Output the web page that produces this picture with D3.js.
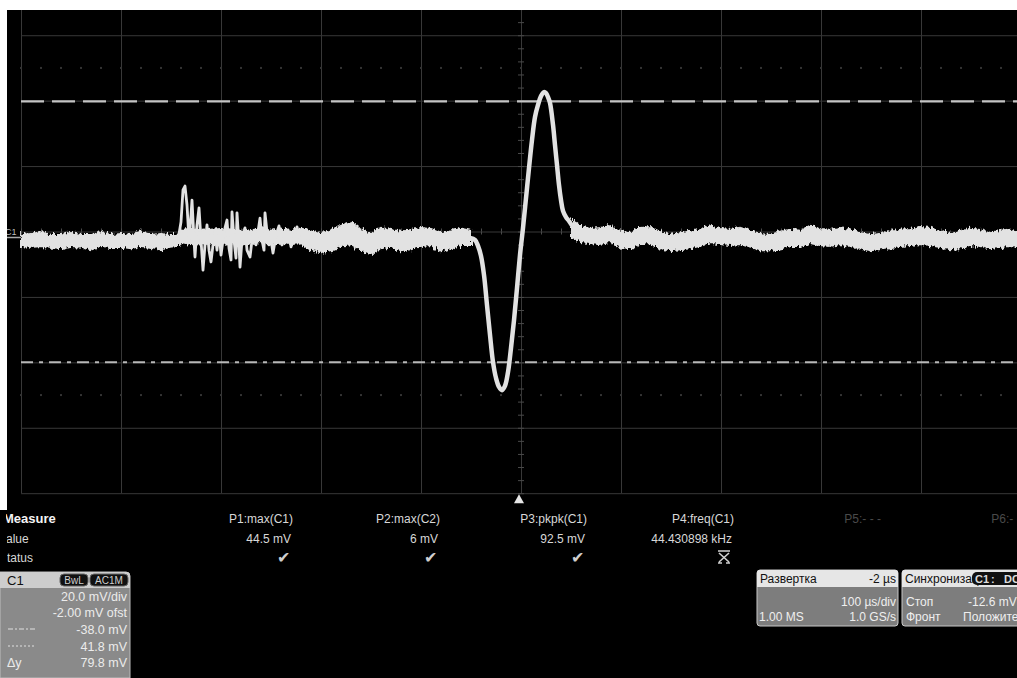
<!DOCTYPE html>
<html><head><meta charset="utf-8">
<script src="https://cdn.jsdelivr.net/npm/d3@7"></script>
<style>
html,body{margin:0;padding:0;background:#000;overflow:hidden}
svg{display:block}
text{font-family:"Liberation Sans",Arial,sans-serif}
</style>
</head><body>
<svg id="c" width="1017" height="678"></svg>
<script>
// ---------------- DATA ----------------
const timePerDivUs = 100;
const voltsPerDivMv = 20;
const offsetMv = -2.00;
const timeDomainUs = [-500, 500];
const screenDomainMv = [-80, 80];
const cursorDashedMv = 41.8;
const cursorDashDotMv = -38.0;
const deltaYMv = 79.8;
const markerRowsMv = [52, -48];

// noise envelope of trace C1 (time µs, upper mV, lower mV); null = pulse part
const bandT  = [-500,-490,-480,-470,-460,-450,-440,-430,-420,-410,-400,-390,-380,-370,-360,-350,-343,
  -340,-330,-320,-310,-300,-290,-280,-270,-260,-250,-240,-230,-220,
  -210,-200,-190,-180,-170,-160,-150,-140,-130,-120,-110,-100,-90,-80,-70,-60,-50,
  -40, 45,
  51,59,69,79,89,99,109,119,129,139,149,159,169,179,189,199,209,219,229,239,249,259,269,279,289,299,
  309,319,329,339,349,359,369,379,389,399,409,419,429,439,449,459,469,479,489,499];
const bandHi = [0.9,1.2,2.0,0.9,0.9,1.5,0.9,0.9,1.9,0.9,1.2,0.9,2.0,0.9,1.2,0.9,0.9,
  2.5,2.8,2.2,2.5,2.8,2.6,2.2,2.4,3.0,2.2,2.6,2.2,2.8,
  1.9,1.2,2.5,3.7,4.9,2.5,1.2,3.1,2.5,1.9,2.5,3.1,2.8,1.5,2.2,2.8,2.2,
  null,null,
  5.5,3.7,2.8,3.1,3.7,2.2,1.5,3.1,3.4,1.9,0.9,1.5,1.9,2.5,3.7,2.8,2.5,3.1,2.2,1.2,0.9,1.9,2.5,2.2,3.7,2.8,
  2.5,3.1,2.5,1.5,0.9,1.2,1.9,2.5,2.8,3.4,3.1,2.2,1.2,1.9,2.8,2.5,1.5,2.2,2.5,1.9];
const bandLo = [-2.4,-2.7,-2.4,-2.7,-3.1,-2.4,-2.7,-3.4,-2.4,-2.7,-2.7,-3.1,-2.4,-2.7,-3.4,-2.7,-2.4,
  -1.2,-1.8,-2.0,-1.6,-1.8,-1.5,-2.0,-1.6,-1.2,-1.8,-1.4,-1.8,-1.6,
  -3.7,-4.3,-3.7,-2.4,-1.8,-3.7,-4.9,-3.1,-2.7,-3.7,-3.4,-2.4,-2.1,-4.0,-3.1,-2.1,-2.1,
  null,null,
  0.6,-1.2,-1.5,-1.8,-1.2,-2.7,-3.1,-1.8,-1.5,-3.1,-3.7,-3.4,-3.1,-2.4,-1.5,-1.8,-2.1,-1.8,-2.7,-3.7,-3.7,-3.1,-2.4,-2.4,-1.5,-2.1,
  -2.4,-1.8,-2.4,-3.1,-3.7,-3.4,-3.1,-2.4,-2.1,-1.8,-2.1,-2.7,-3.4,-3.1,-2.1,-2.4,-3.1,-2.7,-2.4,-2.7];

// ringing burst (time µs, mV)
const burstT = [-349,-343,-340,-338,-336,-334,-332,-330,-329,-327,-326,-324,-322,-320,-318,-316,-314,-312,-310,-308,-306,-304,-302,-300,-298,-296,-294,-292,-290,-289,-287,-285,-284,-282,-281,-279,-276,-274,-271,-268,-265,-263,-261,-259,-257,-256,-254,-252,-250,-248,-245,-242,-239,-236,-233,-230,-227,-224,-221,-216,-211];
const burstV = [-0.9,-0.6,4.9,14.7,15.9,10.1,-0.6,7.0,11.6,-0.6,-5.8,4.0,9.2,-0.6,-9.8,-2.1,4.0,-3.7,-7.3,-2.1,1.9,-3.7,2.5,-5.2,-0.6,3.1,5.5,-3.1,-6.7,8.0,-0.6,-6.1,7.7,-2.1,-8.9,-0.6,3.1,-3.7,-5.8,1.9,-2.1,1.9,6.1,-0.6,-3.7,7.7,1.9,-2.1,-0.6,-4.6,0.9,3.7,-2.1,0.0,2.5,-2.7,0.6,3.4,-0.6,1.9,-2.7];

// main bipolar pulse (time µs, mV)
const pulseT = [-51,-46,-43,-40,-37,-34,-31,-28,-25,-22,-19,-16,-13,-10,-7,-4,-1,2,5,8,11,14,17,20,23,25,27,29,32,34,36,38,40,42,45,48,52,57];
const pulseV = [0.0,-0.6,-2.4,-5.5,-11.3,-20.5,-29.6,-37.9,-42.8,-45.5,-46.5,-45.2,-41.0,-33.6,-25.1,-15.3,-5.2,3.1,12.2,21.4,30.0,37.0,40.7,43.4,44.6,44.3,43.1,41.3,34.6,28.4,22.3,16.2,11.6,8.3,6.4,5.2,3.4,1.5];

const measureNames  = ["P1:max(C1)","P2:max(C2)","P3:pkpk(C1)","P4:freq(C1)","P5:- - -","P6:- - -"];
const measureValues = ["44.5 mV","6 mV","92.5 mV","44.430898 kHz","",""];
const measureStatus = ["ok","ok","ok","fail","",""];
const rowLabels = ["Measure","value","status"];

const chanName = "C1";
const chanBadges = ["BwL","AC1M"];
const chanScale = "20.0 mV/div";
const chanOffset = "-2.00 mV ofst";

const tbTitle = "Развертка", tbDelay = "-2 µs", tbScale = "100 µs/div", tbPoints = "1.00 MS", tbRate = "1.0 GS/s";
const trTitle = "Синхронизация", trBadges = ["C1","DC"], trMode = "Стоп", trLevel = "-12.6 mV", trSlopeLabel = "Фронт", trSlope = "Положительный";

// ---------------- LAYOUT ----------------
const W = 1017, H = 678;
const gx0 = 21, gx1 = 1021, gyTop = -30.2, gyBot = 493.2;
const svg = d3.select("#c");
const defs = svg.append("defs");
const flt = defs.append("filter").attr("id", "rough").attr("x", "-2%").attr("y", "-40%").attr("width", "104%").attr("height", "180%");
flt.append("feTurbulence").attr("type", "fractalNoise").attr("baseFrequency", "0.45 0.15").attr("numOctaves", 2).attr("seed", 7).attr("result", "n");
flt.append("feDisplacementMap").attr("in", "SourceGraphic").attr("in2", "n").attr("scale", 7).attr("xChannelSelector", "R").attr("yChannelSelector", "G");

svg.append("rect").attr("width", W).attr("height", H).attr("fill", "#000");

const x = d3.scaleLinear().domain(timeDomainUs).range([gx0, gx1]);
const ys = d3.scaleLinear().domain(screenDomainMv).range([gyBot, gyTop]);
const y = v => ys(v + offsetMv);

const plot = svg.append("g");
const gridColor = "#383838";
const styleAxis = col => g => { g.select(".domain").remove(); g.selectAll("line").attr("stroke", col); };

// grid via axes
const gridX = d3.axisBottom(x).tickValues(d3.range(timeDomainUs[0], timeDomainUs[1] + 1, timePerDivUs))
  .tickSize(-(gyBot - gyTop)).tickFormat("");
plot.append("g").attr("transform", `translate(0,${gyBot})`).call(gridX).call(styleAxis(gridColor));
const gridY = d3.axisLeft(ys).tickValues(d3.range(screenDomainMv[0], screenDomainMv[1] + 1, voltsPerDivMv))
  .tickSize(-(gx1 - gx0)).tickFormat("");
plot.append("g").attr("transform", `translate(${gx0},0)`).call(gridY).call(styleAxis(gridColor));

// minor ticks on centre axes
const minorYt = d3.range(screenDomainMv[0], screenDomainMv[1] + 1, voltsPerDivMv / 5);
const minorXt = d3.range(timeDomainUs[0], timeDomainUs[1] + 1, timePerDivUs / 5);
plot.append("g").attr("transform", `translate(${x(0)},0)`).call(d3.axisRight(ys).tickValues(minorYt).tickSize(3).tickFormat("")).call(styleAxis("#4a4a4a"));
plot.append("g").attr("transform", `translate(${x(0)},0)`).call(d3.axisLeft(ys).tickValues(minorYt).tickSize(3).tickFormat("")).call(styleAxis("#4a4a4a"));
plot.append("g").attr("transform", `translate(0,${ys(0)})`).call(d3.axisBottom(x).tickValues(minorXt).tickSize(3).tickFormat("")).call(styleAxis("#4a4a4a"));
plot.append("g").attr("transform", `translate(0,${ys(0)})`).call(d3.axisTop(x).tickValues(minorXt).tickSize(3).tickFormat("")).call(styleAxis("#4a4a4a"));

// faint dotted marker rows
markerRowsMv.forEach(m => {
  plot.selectAll(null).data(minorXt).enter().append("rect")
    .attr("x", d => x(d) - 1).attr("y", y(m) - 1).attr("width", 2).attr("height", 2)
    .attr("fill", "#333");
});

// cursors
plot.append("line").attr("x1", gx0).attr("x2", W).attr("y1", y(cursorDashedMv)).attr("y2", y(cursorDashedMv))
  .attr("stroke", "#c4c4c4").attr("stroke-width", 2.2).attr("stroke-dasharray", "23,8");
plot.append("line").attr("x1", gx0).attr("x2", W).attr("y1", y(cursorDashDotMv)).attr("y2", y(cursorDashDotMv))
  .attr("stroke", "#b8b8b8").attr("stroke-width", 2).attr("stroke-dasharray", "12,6,4,6");

// trace
const traceCol = "#e2e2e2";
const band = bandT.map((t, i) => ({t, hi: bandHi[i], lo: bandLo[i]}));
plot.append("path").datum(band)
  .attr("d", d3.area().defined(d => d.hi != null).x(d => x(d.t)).y0(d => y(d.lo)).y1(d => y(d.hi)))
  .attr("fill", traceCol).attr("stroke", traceCol).attr("stroke-width", 2).attr("filter", "url(#rough)");
plot.append("path").datum(burstT.map((t, i) => [t, burstV[i]]))
  .attr("d", d3.line().x(d => x(d[0])).y(d => y(d[1])))
  .attr("fill", "none").attr("stroke", traceCol).attr("stroke-width", 2.8).attr("stroke-linejoin", "round");
plot.append("path").datum(pulseT.map((t, i) => [t, pulseV[i]]))
  .attr("d", d3.line().curve(d3.curveCatmullRom).x(d => x(d[0])).y(d => y(d[1])))
  .attr("fill", "none").attr("stroke", traceCol).attr("stroke-width", 4.5).attr("stroke-linejoin", "round").attr("stroke-linecap", "round");

// channel marker
svg.append("text").attr("x", 5).attr("y", ys(0) + 3).attr("font-size", 9).attr("fill", "#bbb").text(chanName);
svg.append("line").attr("x1", 7).attr("x2", gx0).attr("y1", ys(0) + 6).attr("y2", ys(0) + 6).attr("stroke", "#aaa").attr("stroke-width", 1.5);

// trigger marker
svg.append("path").attr("d", `M${x(-2)},${gyBot + 1}l-5,9h10z`).attr("fill", "#e6e6e6");

// frame strips
svg.append("rect").attr("x", 0).attr("y", 0).attr("width", W).attr("height", 10).attr("fill", "#fff");
svg.append("rect").attr("x", 0).attr("y", 0).attr("width", 7).attr("height", 510).attr("fill", "#fff");

// ---------------- MEASURE TABLE ----------------
const rowY = [523, 543, 562];
const tbl = svg.append("g");
tbl.append("text").attr("x", 3).attr("y", rowY[0]).attr("font-size", 13).attr("font-weight", "bold").attr("fill", "#f4f4f4").text(rowLabels[0]);
tbl.append("text").attr("x", 0).attr("y", rowY[1]).attr("font-size", 12).attr("fill", "#d8d8d8").text(rowLabels[1]);
tbl.append("text").attr("x", 1).attr("y", rowY[2]).attr("font-size", 12).attr("fill", "#d8d8d8").text(rowLabels[2]);
tbl.append("rect").attr("x", 0).attr("y", 528).attr("width", 7).attr("height", 40).attr("fill", "#000");
tbl.append("rect").attr("x", 0).attr("y", 510).attr("width", 6).attr("height", 18).attr("fill", "#000");
const colRight = [293, 440, 587, 734, 881, 1028];
measureNames.forEach((n, i) => {
  const dim = i >= 4;
  tbl.append("text").attr("x", colRight[i]).attr("y", rowY[0]).attr("text-anchor", "end").attr("font-size", 12)
    .attr("fill", dim ? "#4a4a4a" : "#d8d8d8").text(n);
  if (measureValues[i]) tbl.append("text").attr("x", colRight[i] - 2).attr("y", rowY[1]).attr("text-anchor", "end")
    .attr("font-size", 12).attr("fill", "#d8d8d8").text(measureValues[i]);
  if (measureStatus[i] === "ok") tbl.append("text").attr("x", colRight[i] - 3).attr("y", rowY[2] + 1).attr("text-anchor", "end")
    .attr("font-size", 16).attr("fill", "#cfcfcf").text("✔");
  if (measureStatus[i] === "fail") {
    const cx = colRight[i] - 10, cy = rowY[2] - 5;
    tbl.append("path").attr("d", `M${cx-6},${cy-6}h12M${cx-5},${cy-4}L${cx+5},${cy+5}M${cx+5},${cy-4}L${cx-5},${cy+5}M${cx-6},${cy+6}h4M${cx+2},${cy+6}h4`)
      .attr("stroke", "#d0d0d0").attr("stroke-width", 1.6).attr("fill", "none");
  }
});

// ---------------- CHANNEL PANEL ----------------
const cp = svg.append("g");
cp.append("path").attr("d", "M0,572H126a4,4 0 0 1 4,4V678H0Z").attr("fill", "#8a8a8a").attr("stroke", "#bdbdbd").attr("stroke-width", 1);
cp.append("path").attr("d", "M0,572H126a4,4 0 0 1 4,4V588H0Z").attr("fill", "#cdcdcd");
cp.append("text").attr("x", 7).attr("y", 585).attr("font-size", 13).attr("fill", "#111").text(chanName);
const badgeX = [60, 90], badgeW = [28, 38];
chanBadges.forEach((b, i) => {
  cp.append("rect").attr("x", badgeX[i]).attr("y", 574).attr("width", badgeW[i]).attr("height", 12).attr("rx", 4)
    .attr("fill", "#111").attr("stroke", "#666");
  cp.append("text").attr("x", badgeX[i] + badgeW[i] / 2).attr("y", 584).attr("text-anchor", "middle")
    .attr("font-size", 10).attr("fill", "#cfcfcf").text(b);
});
const cpRows = [[chanScale, 601], [chanOffset, 617], [cursorDashDotMv.toFixed(1) + " mV", 634], [cursorDashedMv.toFixed(1) + " mV", 651], [deltaYMv.toFixed(1) + " mV", 667]];
cpRows.forEach(r => cp.append("text").attr("x", 127).attr("y", r[1]).attr("text-anchor", "end").attr("font-size", 12.5)
  .attr("fill", "#ececec").text(r[0]));
cp.append("line").attr("x1", 8).attr("x2", 36).attr("y1", 629).attr("y2", 629).attr("stroke", "#e0e0e0").attr("stroke-dasharray", "5,2,2,2");
cp.append("line").attr("x1", 8).attr("x2", 36).attr("y1", 646).attr("y2", 646).attr("stroke", "#e0e0e0").attr("stroke-dasharray", "2,2");
cp.append("text").attr("x", 7).attr("y", 667).attr("font-size", 12.5).attr("fill", "#ececec").text("Δy");

// ---------------- TIMEBASE PANEL ----------------
const tp = svg.append("g");
tp.append("rect").attr("x", 757).attr("y", 570).attr("width", 141).attr("height", 56).attr("rx", 3).attr("fill", "#7d7d7d").attr("stroke", "#c8c8c8");
tp.append("path").attr("d", "M757,587V573a3,3 0 0 1 3,-3H895a3,3 0 0 1 3,3V587Z").attr("fill", "#e6e6e6");
tp.append("text").attr("x", 760).attr("y", 583).attr("font-size", 12).attr("fill", "#111").text(tbTitle);
tp.append("text").attr("x", 896).attr("y", 583).attr("text-anchor", "end").attr("font-size", 12).attr("fill", "#111").text(tbDelay);
tp.append("text").attr("x", 896).attr("y", 606).attr("text-anchor", "end").attr("font-size", 12).attr("fill", "#efefef").text(tbScale);
tp.append("text").attr("x", 759).attr("y", 621).attr("font-size", 12).attr("fill", "#efefef").text(tbPoints);
tp.append("text").attr("x", 896).attr("y", 621).attr("text-anchor", "end").attr("font-size", 12).attr("fill", "#efefef").text(tbRate);

// ---------------- TRIGGER PANEL ----------------
const trp = svg.append("g");
trp.append("rect").attr("x", 902).attr("y", 570).attr("width", 140).attr("height", 56).attr("rx", 3).attr("fill", "#7d7d7d").attr("stroke", "#c8c8c8");
trp.append("path").attr("d", "M902,587V573a3,3 0 0 1 3,-3H1040V587Z").attr("fill", "#e6e6e6");
trp.append("text").attr("x", 905).attr("y", 583).attr("font-size", 12).attr("fill", "#111").text(trTitle);
trp.append("rect").attr("x", 972).attr("y", 572).attr("width", 60).attr("height", 13).attr("rx", 5).attr("fill", "#111");
trp.append("text").attr("x", 975).attr("y", 583).attr("font-size", 11).attr("font-weight", "bold").attr("fill", "#ddd").text(trBadges[0]);
trp.append("text").attr("x", 991).attr("y", 583).attr("font-size", 11).attr("font-weight", "bold").attr("fill", "#ddd").text(":");
trp.append("text").attr("x", 1004).attr("y", 583).attr("font-size", 11).attr("font-weight", "bold").attr("fill", "#ddd").text(trBadges[1]);
trp.append("text").attr("x", 906).attr("y", 606).attr("font-size", 12).attr("fill", "#efefef").text(trMode);
trp.append("text").attr("x", 968).attr("y", 606).attr("font-size", 12).attr("fill", "#efefef").text(trLevel);
trp.append("text").attr("x", 906).attr("y", 621).attr("font-size", 12).attr("fill", "#efefef").text(trSlopeLabel);
trp.append("text").attr("x", 963).attr("y", 621).attr("font-size", 12).attr("fill", "#efefef").text(trSlope);
</script>
</body></html>
